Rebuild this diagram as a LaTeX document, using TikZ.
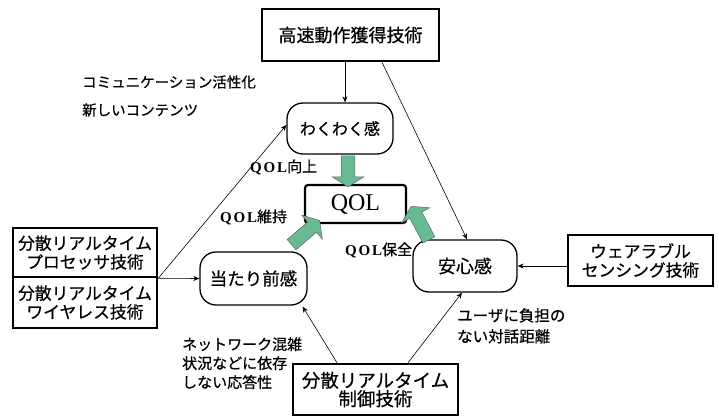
\documentclass[tikz,border=0pt]{standalone}
\usepackage{fontspec}
\setmainfont{Liberation Serif}
\newfontfamily\jp[FakeBold=0.6]{Noto Sans CJK JP}
\newfontfamily\qolf[LetterSpace=12]{Liberation Serif}
\usetikzlibrary{arrows.meta,shapes.arrows,calc}
\definecolor{arrowgreen}{RGB}{104,186,146}
\tikzset{
  sqbox/.style={draw, line width=2.5pt, inner sep=0pt, align=center},
  feel/.style={draw, line width=1.3pt, rounded corners=16pt, inner sep=0pt, align=center},
  conn/.style={draw, line width=0.6pt, -{Stealth[length=6pt,width=5pt]}},
  fat/.style={single arrow, draw=black!60, line width=0.5pt, fill=arrowgreen,
    inner xsep=0pt, inner ysep=6.5pt, single arrow head extend=9pt,
    single arrow tip angle=115, single arrow head indent=0pt, sloped, allow upside down, midway},
  jptext/.style={font=\jp\fontsize{#1}{#1}\selectfont},
  lbl/.style={inner sep=0pt, anchor=west},
}
\newcommand\qolword{{\qolf\bfseries QOL}}
\begin{document}
\begin{tikzpicture}[x=1pt,y=-1pt]
\useasboundingbox[fill=white] (0,0) rectangle (719,417);

\node[sqbox, minimum width=177pt, minimum height=52pt, jptext=18] (top) at (350.5,35) {高速動作獲得技術};
\node[feel, minimum width=106pt, minimum height=51pt, jptext=16] (waku) at (340,128.5) {わくわく感};
\node[draw, line width=2.2pt, rounded corners=3pt, minimum width=101pt, minimum height=38pt, inner sep=0pt, font=\fontsize{24}{24}\selectfont] (qol) at (355.5,204) {QOL};
\node[feel, minimum width=107pt, minimum height=53pt, jptext=17.5] (atari) at (253.5,278.5) {当たり前感};
\node[feel, minimum width=104pt, minimum height=52pt, jptext=18] (anshin) at (465,266) {安心感};
\node[sqbox, minimum width=144pt, minimum height=49pt, jptext=16.8] (left1) at (85,252.5) {分散リアルタイム\\[2pt]プロセッサ技術};
\node[sqbox, minimum width=144pt, minimum height=51pt, jptext=16.8] (left2) at (85,302.5) {分散リアルタイム\\[2pt]ワイヤレス技術};
\node[sqbox, minimum width=145pt, minimum height=51pt, jptext=16.8] (wear) at (640.5,260.5) {ウェアラブル\\[2pt]センシング技術};
\node[sqbox, minimum width=165pt, minimum height=51pt, jptext=18.5] (bottom) at (375.5,389.5) {分散リアルタイム\\[0pt]制御技術};

% thin connectors
\draw[conn] ([xshift=-5.5pt]top.south) -- ([xshift=5pt]waku.north);
\draw[conn] ([xshift=31.5pt]top.south) -- ([xshift=2pt]anshin.north);
\draw[conn] (left1.south east) -- (atari.west);
\draw[conn] (left1.south east) -- ([yshift=3.5pt]waku.west);
\draw[conn] (wear.west |- anshin.east) -- (anshin.east);
\draw[conn] ([xshift=-38.5pt]bottom.north) -- ([xshift=-5pt,yshift=-1pt]atari.south east);
\draw[conn] ([xshift=32.5pt]bottom.north) -- ([xshift=-3pt]anshin.south);

% fat green arrows
\coordinate (g1a) at ([xshift=8pt]waku.south);
\coordinate (g1b) at ([xshift=-7.5pt]qol.north);
\path (g1a) -- node[fat, minimum height=31pt]{} (g1b);
\coordinate (g2a) at (290,246);
\coordinate (g2b) at (318,222);
\path (g2a) -- node[fat, minimum height=37pt]{} (g2b);
\coordinate (g3a) at (430,242);
\coordinate (g3b) at (412,208);
\path (g3a) -- node[fat, minimum height=38pt]{} (g3b);

% labels
\node[lbl, jptext=14.5] (l1) at (82,82) {コミュニケーション活性化};
\node[lbl, jptext=14.5] (l2) at (82,110) {新しいコンテンツ};
\node[lbl, font=\fontsize{15}{15}\selectfont] (l3) at (250,167) {\qolword{\jp 向上}};
\node[lbl, font=\fontsize{15}{15}\selectfont] (l4) at (220,217) {\qolword{\jp 維持}};
\node[lbl, font=\fontsize{15}{15}\selectfont] (l5) at (345,250) {\qolword{\jp 保全}};
\node[inner sep=0pt, anchor=north west, align=left, font=\jp\fontsize{15}{19}\selectfont] (l6) at (182,337) {ネットワーク混雑\\状況などに依存\\しない応答性};
\node[inner sep=0pt, anchor=north west, align=left, font=\jp\fontsize{15.5}{21}\selectfont] (l7) at (457,308) {ユーザに負担の\\ない対話距離};
\end{tikzpicture}
\end{document}
